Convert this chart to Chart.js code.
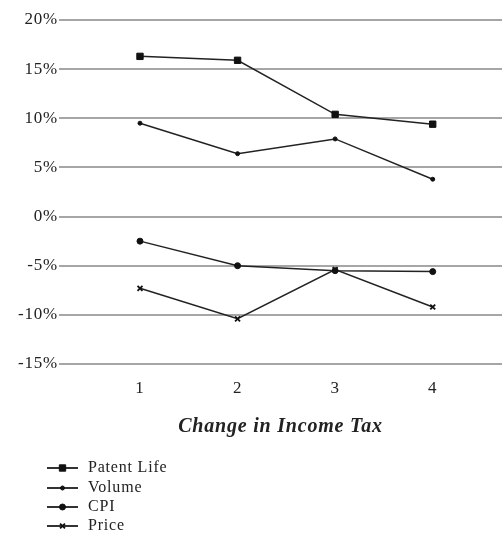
<!DOCTYPE html>
<html><head><meta charset="utf-8">
<script src="https://cdn.jsdelivr.net/npm/chart.js@4/dist/chart.umd.min.js"></script>
<style>html,body{margin:0;padding:0;background:#fff;overflow:hidden}#wrap{width:502px;height:534px}canvas{display:block}</style>
</head><body><div id="wrap"><canvas id="c" width="502" height="534"></canvas></div>
<script>
const categories = [1, 2, 3, 4];
const yTicks = [20, 15, 10, 5, 0, -5, -10, -15];
const patentLife = [16.3, 15.9, 10.4, 9.4];
const volume = [9.5, 6.4, 7.9, 3.8];
const cpi = [-2.5, -5.0, -5.5, -5.6];
const price = [-7.3, -10.4, -5.4, -9.2];
const seriesNames = ['Patent Life', 'Volume', 'CPI', 'Price'];
const xTitle = 'Change in Income Tax';

const pts = arr => arr.map((v, i) => ({x: categories[i], y: v}));
const serif = '"Liberation Serif", "DejaVu Serif", serif';

const styles = [
  {pointStyle: 'rect', radius: 4.5},
  {pointStyle: 'circle', radius: 2},
  {pointStyle: 'circle', radius: 3},
  {pointStyle: 'crossRot', radius: 3.5}
];
const dataArrays = [patentLife, volume, cpi, price];

const datasets = dataArrays.map((arr, i) => ({
  label: seriesNames[i],
  data: pts(arr),
  borderColor: '#222',
  backgroundColor: '#111',
  borderWidth: 1.5,
  pointStyle: styles[i].pointStyle,
  pointRadius: styles[i].radius,
  pointBorderWidth: i === 3 ? 1.8 : 1,
  pointBorderColor: '#111',
  pointBackgroundColor: '#111',
  tension: 0
}));

const spacingPlugin = {
  id: 'spacing',
  beforeUpdate(chart) { chart.ctx.letterSpacing = '0.8px'; },
  beforeDraw(chart) { chart.ctx.letterSpacing = '0.8px'; }
};

const legendPlugin = {
  id: 'vlegend',
  afterDraw(chart) {
    const ctx = chart.ctx;
    ctx.save();
    const x0 = 47, x1 = 78, tx = 88;
    const ys = [468, 488, 507, 526];
    chart.data.datasets.forEach((ds, i) => {
      const y = ys[i];
      ctx.strokeStyle = '#333';
      ctx.lineWidth = 2;
      ctx.beginPath(); ctx.moveTo(x0, y); ctx.lineTo(x1, y); ctx.stroke();
      ctx.fillStyle = '#111';
      ctx.strokeStyle = '#111';
      ctx.lineWidth = ds.pointBorderWidth;
      Chart.helpers.drawPoint(ctx, {pointStyle: ds.pointStyle, radius: ds.pointRadius, rotation: 0, borderWidth: ds.pointBorderWidth}, (x0 + x1) / 2, y);
      ctx.fillStyle = '#222';
      ctx.font = '16px ' + serif;
      ctx.textBaseline = 'middle';
      ctx.textAlign = 'left';
      ctx.fillText(ds.label, tx, y);
    });
    ctx.restore();
  }
};

new Chart(document.getElementById('c'), {
  type: 'line',
  data: {datasets},
  options: {
    responsive: false,
    animation: false,
    layout: {autoPadding: false, padding: {top: 20, left: 0, right: 0, bottom: 90}},
    plugins: {legend: {display: false}, tooltip: {enabled: false}},
    scales: {
      x: {
        type: 'linear',
        min: 0.17, max: 4.71,
        afterBuildTicks: s => { s.ticks = categories.map(v => ({value: v})); },
        afterFit: s => { s.height = 80; s.paddingRight = 0; s.paddingLeft = 0; },
        grid: {display: false, drawTicks: false},
        border: {display: false},
        ticks: {color: '#222', font: {family: serif, size: 17}, padding: 14, callback: v => String(v)},
        title: {display: true, text: xTitle, color: '#222', font: {family: serif, size: 20, style: 'italic', weight: 'bold'}, padding: {top: 0, bottom: 5}}
      },
      y: {
        min: -15, max: 20,
        afterBuildTicks: s => { s.ticks = yTicks.map(v => ({value: v})); },
        afterFit: s => { s.width = 59; },
        grid: {color: '#a6a6a6', lineWidth: 2, drawTicks: false},
        border: {display: false},
        ticks: {color: '#222', font: {family: serif, size: 17}, padding: 1, callback: v => v + '%'}
      }
    }
  },
  plugins: [spacingPlugin, legendPlugin]
});
</script>
</body></html>
